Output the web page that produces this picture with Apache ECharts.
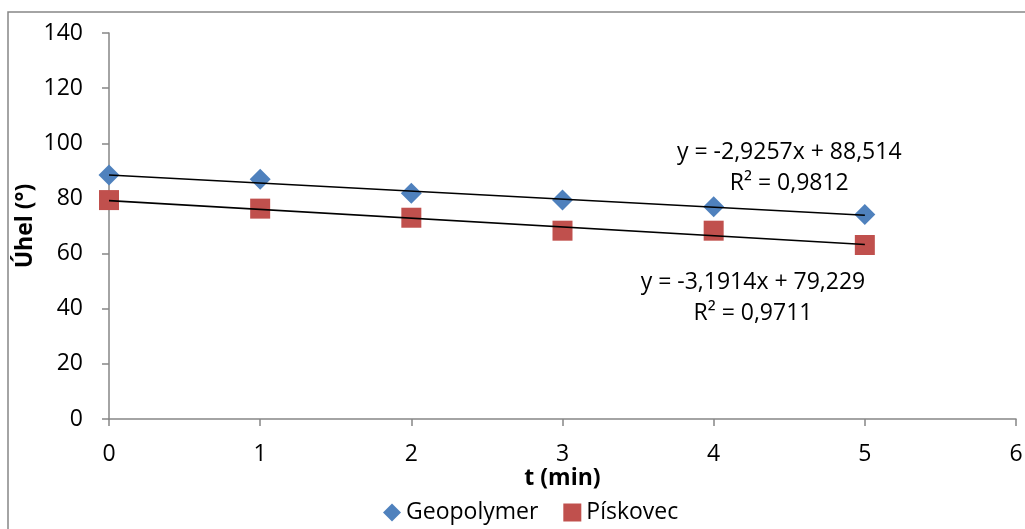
<!DOCTYPE html>
<html>
<head>
<meta charset="utf-8">
<script src="https://cdn.jsdelivr.net/npm/echarts@6/dist/echarts.min.js"></script>
<style>
html,body{margin:0;padding:0;background:#fff;}
#c{width:1025px;height:529px;}
</style>
</head>
<body>
<div id="c"></div>
<script>
var xValues = [0, 1, 2, 3, 4, 5];
var geopolymer = [88.5, 87.0, 81.9, 79.4, 77.0, 74.2];
var piskovec = [79.4, 76.3, 73.0, 68.3, 68.3, 63.1];
var geoTrend = [[0, 88.5], [5, 73.9]];
var pisTrend = [[0, 79.2], [5, 63.3]];
var geoEq = ['y = -2,9257x + 88,514', 'R² = 0,9812'];
var pisEq = ['y = -3,1914x + 79,229', 'R² = 0,9711'];
var geoEqAnchor = [4.5, 91.2];
var pisEqAnchor = [4.26, 43.9];

var FONT = 'Open Sans';
var FS = 23;
var chart = echarts.init(document.getElementById('c'));
function pairs(xs, ys){ return xs.map(function(x,i){ return [x, ys[i]]; }); }

var option = {
  animation: false,
  textStyle: {fontFamily: FONT},
  grid: {left: 109, right: 9, top: 33, bottom: 110, containLabel: false, outerBoundsMode: 'none'},
  xAxis: {
    type: 'value', min: 0, max: 6, interval: 1,
    name: 't (min)', nameLocation: 'middle', nameGap: 48, nameMoveOverlap: false,
    nameTextStyle: {fontFamily: FONT, fontWeight: 'bold', fontSize: FS, color: '#000'},
    axisLine: {lineStyle: {color: '#868686', width: 1.5}},
    axisTick: {show: true, length: 7, lineStyle: {color: '#868686', width: 1.5}},
    axisLabel: {fontFamily: FONT, fontSize: FS, color: '#000', margin: 24},
    splitLine: {show: false}
  },
  yAxis: {
    type: 'value', min: 0, max: 140, interval: 20,
    name: 'Úhel (°)', nameLocation: 'middle', nameGap: 72, nameRotate: 90, nameMoveOverlap: false,
    nameTextStyle: {fontFamily: FONT, fontWeight: 'bold', fontSize: FS, color: '#000'},
    axisLine: {show: true, lineStyle: {color: '#868686', width: 1.5}},
    axisTick: {show: true, length: 7, lineStyle: {color: '#868686', width: 1.5}},
    axisLabel: {fontFamily: FONT, fontSize: FS, color: '#000', margin: 26},
    splitLine: {show: false}
  },
  legend: {
    bottom: 0, left: 378,
    itemGap: 25, itemWidth: 18, itemHeight: 18,
    textStyle: {fontFamily: FONT, fontSize: FS, color: '#000'},
    data: [
      {name: 'Geopolymer', icon: 'diamond'},
      {name: 'Pískovec', icon: 'rect'}
    ]
  },
  series: [
    {
      name: 'Geopolymer trend', type: 'line', data: geoTrend, showSymbol: false, symbol: 'none',
      lineStyle: {color: '#000', width: 1.6}, z: 3, silent: true
    },
    {
      name: 'Pískovec trend', type: 'line', data: pisTrend, showSymbol: false, symbol: 'none',
      lineStyle: {color: '#000', width: 1.6}, z: 3, silent: true
    },
    {
      name: 'Geopolymer', type: 'scatter', data: pairs(xValues, geopolymer),
      symbol: 'diamond', symbolSize: 21,
      itemStyle: {color: '#4F81BD', opacity: 1}, z: 2
    },
    {
      name: 'Pískovec', type: 'scatter', data: pairs(xValues, piskovec),
      symbol: 'rect', symbolSize: 20,
      itemStyle: {color: '#C0504D', opacity: 1}, z: 2
    }
  ]
};
chart.setOption(option);

var p1 = chart.convertToPixel({gridIndex: 0}, geoEqAnchor);
var p2 = chart.convertToPixel({gridIndex: 0}, pisEqAnchor);
chart.setOption({
  graphic: [
    {type: 'rect', x: 8, y: 12, shape: {x: 0, y: 0, width: 1030, height: 540},
     style: {fill: 'none', stroke: '#868686', lineWidth: 1.5}, z: -1, silent: true},
    {type: 'text', x: p1[0], y: p1[1], z: 10,
     style: {text: geoEq.join('\n'), fontFamily: FONT, fontSize: FS, fill: '#000',
             textAlign: 'center', textVerticalAlign: 'middle', lineHeight: 31}},
    {type: 'text', x: p2[0], y: p2[1], z: 10,
     style: {text: pisEq.join('\n'), fontFamily: FONT, fontSize: FS, fill: '#000',
             textAlign: 'center', textVerticalAlign: 'middle', lineHeight: 31}}
  ]
});
</script>
</body>
</html>
